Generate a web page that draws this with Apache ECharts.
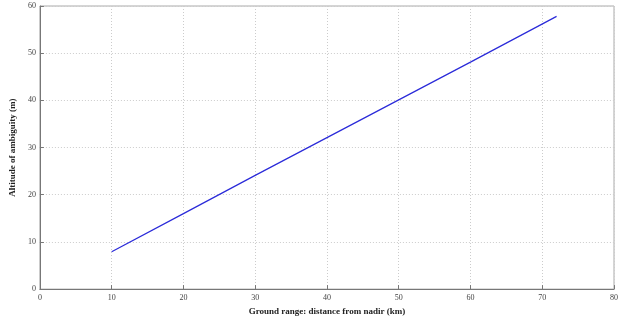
<!DOCTYPE html>
<html>
<head>
<meta charset="utf-8">
<script src="https://cdn.jsdelivr.net/npm/echarts@6/dist/echarts.min.js"></script>
<style>
html,body{margin:0;padding:0;background:#fff;}
#chart{width:636px;height:321px;}
</style>
</head>
<body>
<div id="chart"></div>
<script>
var groundRange = [10, 20, 30, 40, 50, 60, 72];
var altitude = [7.9, 16.0, 24.1, 32.1, 40.1, 48.1, 57.8];

var lineData = [];
for (var i = 0; i < groundRange.length; i++) {
    lineData.push([groundRange[i], altitude[i]]);
}

var myChart = echarts.init(document.getElementById('chart'));

var axisFont = {
    fontFamily: 'Liberation Serif',
    fontSize: 8,
    color: '#444'
};

var option = {
    backgroundColor: '#fff',
    animation: false,
    grid: {
        left: 39,
        right: 22,
        top: 6,
        bottom: 27,
        show: true,
        borderColor: '#aaa',
        borderWidth: 1
    },
    xAxis: {
        type: 'value',
        min: 0,
        max: 80,
        interval: 10,
        name: 'Ground range: distance from nadir (km)',
        nameLocation: 'middle',
        nameGap: 17,
        nameTextStyle: {
            fontFamily: 'Liberation Serif',
            fontWeight: 'bold',
            fontSize: 9,
            color: '#222'
        },
        axisLine: {lineStyle: {color: '#777'}},
        axisTick: {inside: true, length: 4, lineStyle: {color: '#777'}},
        axisLabel: Object.assign({margin: 5}, axisFont),
        splitLine: {show: true, lineStyle: {color: '#ccc', type: [1, 2]}}
    },
    yAxis: {
        type: 'value',
        min: 0,
        max: 60,
        interval: 10,
        name: 'Altitude of ambiguity (m)',
        nameLocation: 'middle',
        nameGap: 22,
        nameTextStyle: {
            fontFamily: 'Liberation Serif',
            fontWeight: 'bold',
            fontSize: 9,
            color: '#222'
        },
        axisLine: {show: true, lineStyle: {color: '#777'}},
        axisTick: {show: true, inside: true, length: 4, lineStyle: {color: '#777'}},
        axisLabel: Object.assign({margin: 4}, axisFont),
        splitLine: {show: true, lineStyle: {color: '#ccc', type: [1, 2]}}
    },
    series: [
        {
            type: 'line',
            data: lineData,
            showSymbol: false,
            lineStyle: {color: '#2b2bd9', width: 1.2}
        }
    ]
};

myChart.setOption(option);
</script>
</body>
</html>
